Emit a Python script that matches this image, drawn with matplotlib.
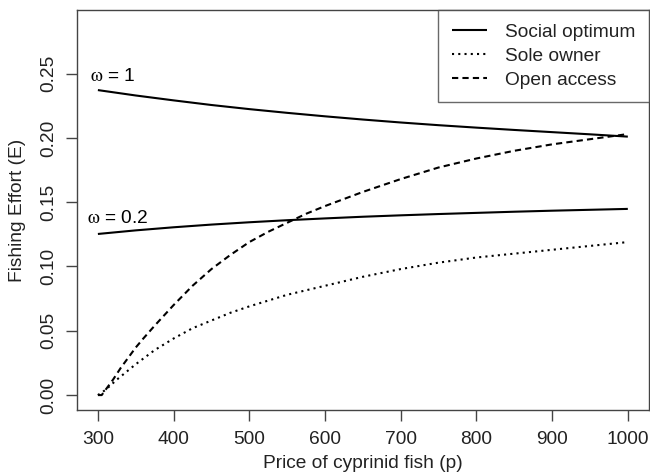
import matplotlib
matplotlib.use("Agg")
import matplotlib.pyplot as plt

plt.rcParams['font.family'] = ['Liberation Sans', 'DejaVu Sans']
plt.rcParams['mathtext.fontset'] = 'stix'

# Price of cyprinid fish (p)
price_social = [300, 350, 400, 450, 500, 550, 600, 650, 700, 750, 800, 850, 900, 950, 1000]
social_w1 = [0.2372, 0.2330, 0.2292, 0.2256, 0.2224, 0.2195, 0.2168, 0.2143, 0.2120,
             0.2099, 0.2080, 0.2062, 0.2045, 0.2028, 0.2010]
social_w02 = [0.1253, 0.1281, 0.1305, 0.1326, 0.1344, 0.1360, 0.1374, 0.1387, 0.1398,
              0.1408, 0.1417, 0.1426, 0.1434, 0.1441, 0.1448]

price_sole = [300, 310, 325, 350, 375, 400, 425, 450, 475, 500, 550, 600, 650, 700, 750,
              800, 850, 900, 950, 1000]
sole_owner = [0.000, 0.004, 0.012, 0.024, 0.035, 0.044, 0.052, 0.058, 0.064, 0.069, 0.078,
              0.085, 0.092, 0.098, 0.103, 0.107, 0.110, 0.113, 0.116, 0.119]

price_open = [300, 305, 310, 320, 330, 340, 350, 360, 375, 400, 425, 450, 475, 500, 525,
              550, 575, 600, 650, 700, 750, 800, 850, 900, 950, 1000]
open_access = [0.000, 0.000, 0.004, 0.012, 0.021, 0.029, 0.037, 0.044, 0.054, 0.070, 0.085,
               0.098, 0.109, 0.119, 0.127, 0.134, 0.141, 0.147, 0.158, 0.168, 0.177, 0.184,
               0.190, 0.195, 0.199, 0.203]

legend_labels = ["Social optimum", "Sole owner", "Open access"]
x_ticks = [300, 400, 500, 600, 700, 800, 900, 1000]
y_ticks = [0.00, 0.05, 0.10, 0.15, 0.20, 0.25]

FS = 13.8
fig = plt.figure(figsize=(6.5, 4.73), dpi=100)
ax = fig.add_axes([0.118, 0.1332, 0.8805, 0.8457])

lw = 1.5
l1, = ax.plot(price_social, social_w1, color='black', lw=lw, solid_capstyle='butt')
ax.plot(price_social, social_w02, color='black', lw=lw, solid_capstyle='butt')
l2, = ax.plot(price_sole, sole_owner, color='black', lw=lw, linestyle=(0, (1, 2)))
l3, = ax.plot(price_open, open_access, color='black', lw=lw, linestyle=(0, (3, 2)))

ax.text(290, 0.248, r'$\mathrm{\omega}$ = 1', fontsize=FS, ha='left', va='center')
ax.text(285, 0.137, r'$\mathrm{\omega}$ = 0.2', fontsize=FS, ha='left', va='center')

ax.set_xlim(272, 1028)
ax.set_ylim(-0.0116, 0.2995)
ax.set_xticks(x_ticks)
ax.set_xticklabels([str(v) for v in x_ticks])
ax.set_yticks(y_ticks)
ax.set_yticklabels([f"{v:.2f}" for v in y_ticks], rotation=90, va='center')

ax.tick_params(axis='both', direction='out', length=8, width=1, color='#444444',
               labelsize=FS, labelcolor='#222222')
ax.tick_params(axis='x', pad=7)
ax.tick_params(axis='y', pad=6)
for s in ax.spines.values():
    s.set_color('#444444')
    s.set_linewidth(1.0)

ax.set_xlabel("Price of cyprinid fish (p)", fontsize=FS, color='#222222', labelpad=5)
ax.set_ylabel("Fishing Effort (E)", fontsize=FS, color='#222222', labelpad=10)

leg = ax.legend([l1, l2, l3], legend_labels, loc='upper right', fontsize=FS,
                frameon=True, fancybox=False, borderaxespad=0, borderpad=0.7,
                handlelength=1.85, handletextpad=0.95, labelspacing=0.35)
leg.get_frame().set_edgecolor('#444444')
leg.get_frame().set_linewidth(1.0)
for t in leg.get_texts():
    t.set_color('#222222')

fig.savefig("out.png", dpi=100)
